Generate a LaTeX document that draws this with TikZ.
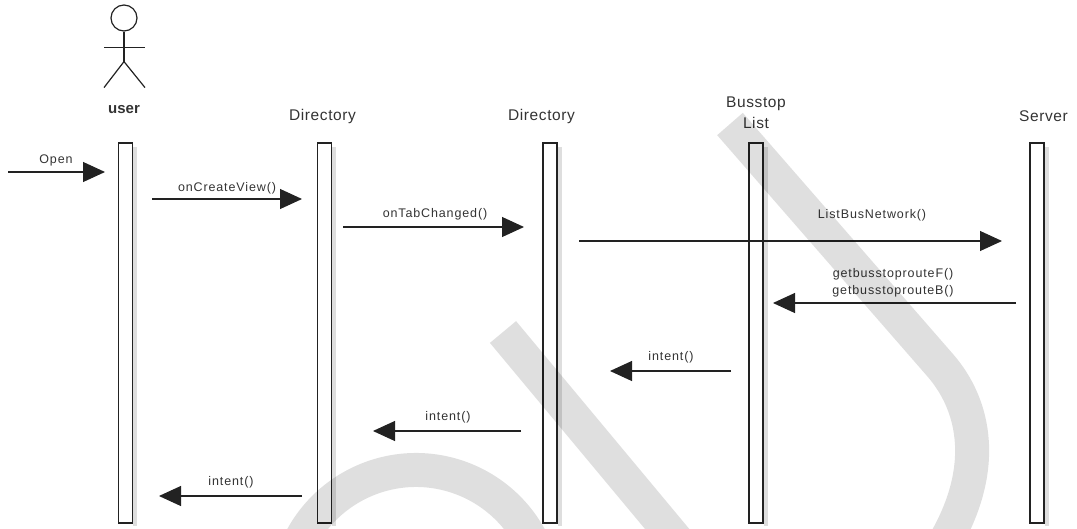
\documentclass[tikz,border=0pt]{standalone}
\usepackage{fontspec}
\setmainfont{Liberation Sans}
\newfontfamily\headfont[LetterSpace=4]{Liberation Sans}
\newfontfamily\msgfont[LetterSpace=7]{Liberation Sans}
\usetikzlibrary{arrows.meta}
\definecolor{ink}{HTML}{222222}
\definecolor{txt}{HTML}{333333}
\tikzstyle{bar} = [draw=ink, line width=1.3pt, fill=white, minimum width=14pt, minimum height=380pt, inner sep=0pt]
\tikzstyle{barshade} = [black!13, line width=4pt]
\tikzstyle{msg} = [ink, line width=1.1pt, -{Triangle[length=22pt,width=20pt]}]
\tikzstyle{head} = [text=txt, anchor=base, inner sep=0pt, font=\headfont\fontsize{15.5}{21}\selectfont]
\tikzstyle{lbl} = [text=txt, anchor=base, inner sep=0pt, font=\msgfont\fontsize{12.5}{17}\selectfont]
\tikzstyle{wmark} = [black, opacity=0.125, line width=34pt]

\begin{document}
\begin{tikzpicture}[x=1pt, y=-1pt]
\useasboundingbox (0,0) rectangle (1077,528);

\node[circle, draw=ink, line width=1.2pt, minimum size=26pt, inner sep=0pt] (head) at (124,18) {};
\draw[ink, line width=1.2pt] (head.south) -- ++(0,30) coordinate (hip);
\draw[ink, line width=1.2pt] (head.south) ++(-20,16) -- ++(41,0);
\draw[ink, line width=1.2pt] (hip) -- ++(-20,26);
\draw[ink, line width=1.2pt] (hip) -- ++(21,26);

\foreach \n/\x in {user/125.5, dirA/324.5, dirB/550, stops/756, server/1037} {
  \draw[barshade] (\x,147) ++(9.5,0) -- ++(0,379);
  \node[bar] (\n) at (\x,333) {};
}

\node[head, font=\bfseries\fontsize{15}{18}\selectfont] (user-name) at (124,113) {user};
\node[head] (dirA-name) at (322.5,120) {Directory};
\node[head] (dirB-name) at (541.5,120) {Directory};
\node[head, align=center, anchor=center] (stops-name) at (756,113) {Busstop\\List};
\node[head] (server-name) at (1043.5,121) {Server};

\foreach \n/\xa/\xb/\y in {open/8/105/172, create/152/302/199, tab/343/524/227, net/579/1002/241, route/1016/773/303, backA/731/610/371, backB/521/373/431, backC/302/159/496} {
  \coordinate (\n-from) at (\xa,\y);
  \coordinate (\n-to) at (\xb,\y);
  \draw[msg] (\n-from) -- (\n-to);
}

\node[lbl] (open-txt) at (56,163) {Open};
\node[lbl] (create-txt) at (227,191) {onCreateView()};
\node[lbl] (tab-txt) at (435,217) {onTabChanged()};
\node[lbl] (net-txt) at (872,218) {ListBusNetwork()};
\node[lbl, align=center, anchor=center] (route-txt) at (893,283) {getbusstoprouteF()\\getbusstoprouteB()};
\node[lbl] (backA-txt) at (671,360) {intent()};
\node[lbl] (backB-txt) at (448,420) {intent()};
\node[lbl] (backC-txt) at (231,485) {intent()};

\begin{scope}
\clip (0,0) rectangle (1077,528);
\draw[wmark] (730,124) -- (940,365) .. controls (975,405) and (990,470) .. (940,550);
\draw[wmark] (503,332) -- (693,560);
\draw[wmark] (416,600) ++(200:130) arc[start angle=200, end angle=340, radius=130];
\end{scope}
\end{tikzpicture}
\end{document}
